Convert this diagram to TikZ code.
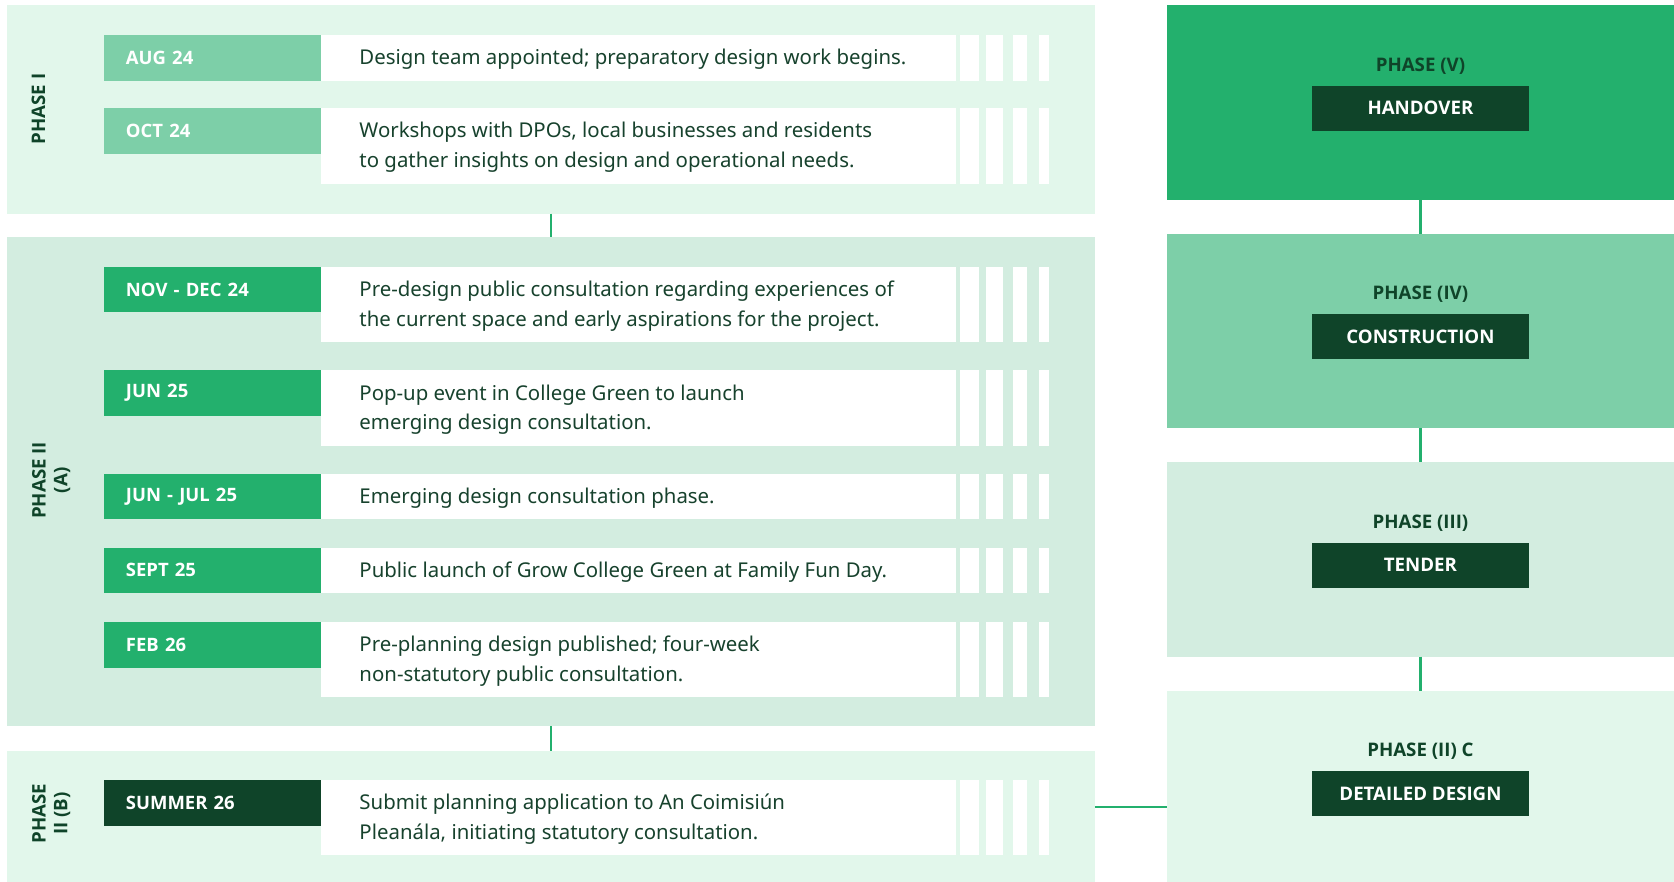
\documentclass[tikz,border=0pt]{standalone}
\usepackage{fontspec}
\setmainfont{Noto Sans}
\newfontfamily\myBold{Open Sans}
\definecolor{mintA}{HTML}{E2F7EB}
\definecolor{mintB}{HTML}{D3EDE0}
\definecolor{greenL}{HTML}{7DCFA8}
\definecolor{greenM}{HTML}{23B06D}
\definecolor{darkG}{HTML}{0F4429}
\definecolor{txtG}{HTML}{17422D}
\newcommand\myDesc{\fontsize{19.1}{28}\selectfont}
\newcommand\myDate{\myBold\fontsize{17.3}{20}\selectfont\bfseries}
\newcommand\myVlab{\myBold\fontsize{17.5}{20.5}\selectfont\bfseries}
\newcommand\myStage{\myBold\fontsize{17.5}{21}\selectfont\bfseries}
\newcommand\myStripes[2]{\foreach \a/\b in {899.2/917,923.6/939.5,949/962,973.2/982.6}{\fill[white] (\a,#1) rectangle (\b,#2);}}
\begin{document}
\begin{tikzpicture}[x=1pt,y=-1pt,
  panel/.style={anchor=north west, inner sep=0pt, outer sep=0pt},
  datebox/.style={anchor=north west, inner xsep=21pt, inner ysep=0pt, outer sep=0pt, text width=162pt, minimum height=42.5pt, align=left, text=white, font=\myDate},
  whitebox/.style={anchor=north west, fill=white, inner sep=0pt, outer sep=0pt, minimum width=595pt},
  desc/.style={anchor=west, inner sep=0pt, xshift=36pt, yshift=-1.5pt, align=left, text=txtG, font=\myDesc},
  conn/.style={draw=greenM, line width=2pt},
  vlabel/.style={rotate=90, text=darkG, font=\myVlab, align=center, inner sep=0pt},
  stagebox/.style={anchor=north, fill=darkG, text=white, minimum width=204pt, minimum height=42.5pt, inner sep=0pt, font=\myStage},
  stagelabel/.style={text=darkG, font=\myStage, inner sep=0pt}
]
\useasboundingbox (0,0) rectangle (1568,826);
% left panels
\node[panel, fill=mintA, minimum width=1018.6pt, minimum height=195pt] (p1) at (7,5) {};
\node[panel, fill=mintB, minimum width=1018.6pt, minimum height=458pt] (p2) at (7,222) {};
\node[panel, fill=mintA, minimum width=1018.6pt, minimum height=123pt] (p3) at (7,703.4) {};
\draw[conn] (p1.south) -- (p2.north);
\draw[conn] (p2.south) -- (p3.north);
% phase labels
\node[vlabel] (l1) at (36,102) {PHASE I};
\node[vlabel] (l2) at (48,450) {PHASE II\\(A)};
\node[vlabel] (l3) at (48,762) {PHASE\\II (B)};
% row 1
\myStripes{33}{75.5}
\node[whitebox, minimum height=42.5pt] (w1) at (300.5,33) {};
\node[desc] (x1) at (w1.west) {Design team appointed; preparatory design work begins.};
\node[datebox, fill=greenL] (d1) at (97,33) {AUG 24};
% row 2
\myStripes{101.5}{172}
\node[whitebox, minimum height=70.5pt] (w2) at (300.5,101.5) {};
\node[desc] (x2) at (w2.west) {Workshops with DPOs, local businesses and residents\\to gather insights on design and operational needs.};
\node[datebox, fill=greenL] (d2) at (97,101.5) {OCT 24};
% row 3
\myStripes{250}{320}
\node[whitebox, minimum height=70pt] (w3) at (300.5,250) {};
\node[desc] (x3) at (w3.west) {Pre-design public consultation regarding experiences of\\the current space and early aspirations for the project.};
\node[datebox, fill=greenM] (d3) at (97,250) {NOV - DEC 24};
% row 4
\myStripes{347}{417.5}
\node[whitebox, minimum height=70.5pt] (w4) at (300.5,347) {};
\node[desc] (x4) at (w4.west) {Pop-up event in College Green to launch\\emerging design consultation.};
\node[datebox, fill=greenM] (d4) at (97,347) {JUN 25};
% row 5
\myStripes{444}{486.5}
\node[whitebox, minimum height=42.5pt] (w5) at (300.5,444) {};
\node[desc] (x5) at (w5.west) {Emerging design consultation phase.};
\node[datebox, fill=greenM] (d5) at (97,444) {JUN - JUL 25};
% row 6
\myStripes{513}{555.5}
\node[whitebox, minimum height=42.5pt] (w6) at (300.5,513) {};
\node[desc] (x6) at (w6.west) {Public launch of Grow College Green at Family Fun Day.};
\node[datebox, fill=greenM] (d6) at (97,513) {SEPT 25};
% row 7
\myStripes{583}{653}
\node[whitebox, minimum height=70pt] (w7) at (300.5,583) {};
\node[desc] (x7) at (w7.west) {Pre-planning design published; four-week\\non-statutory public consultation.};
\node[datebox, fill=greenM] (d7) at (97,583) {FEB 26};
% row 8
\myStripes{731}{800.5}
\node[whitebox, minimum height=69.5pt] (w8) at (300.5,731) {};
\node[desc] (x8) at (w8.west) {Submit planning application to An Coimisiún\\Pleanála, initiating statutory consultation.};
\node[datebox, fill=darkG] (d8) at (97,731) {SUMMER 26};
% right column
\node[panel, fill=greenM, minimum width=475pt, minimum height=182pt] (r5) at (1093,5) {};
\node[panel, fill=greenL, minimum width=475pt, minimum height=182pt] (r4) at (1093,219) {};
\node[panel, fill=mintB, minimum width=475pt, minimum height=182pt] (r3) at (1093,433) {};
\node[panel, fill=mintA, minimum width=475pt, minimum height=179pt] (r2) at (1093,647) {};
\draw[conn] (r5.south) -- (r4.north);
\draw[conn] (r4.south) -- (r3.north);
\draw[conn] (r3.south) -- (r2.north);
\coordinate (hc) at (1025.6,756);
\draw[conn] (hc) -- (hc -| r2.west);
\node[stagelabel] (t5) at (1330.5,62) {PHASE (V)};
\node[stagebox] (s5) at (1330.5,80) {HANDOVER};
\node[stagelabel] (t4) at (1330.5,276) {PHASE (IV)};
\node[stagebox] (s4) at (1330.5,294) {CONSTRUCTION};
\node[stagelabel] (t3) at (1330.5,490) {PHASE (III)};
\node[stagebox] (s3) at (1330.5,508) {TENDER};
\node[stagelabel] (t2) at (1330.5,704) {PHASE (II) C};
\node[stagebox] (s2) at (1330.5,722) {DETAILED DESIGN};
\end{tikzpicture}
\end{document}
